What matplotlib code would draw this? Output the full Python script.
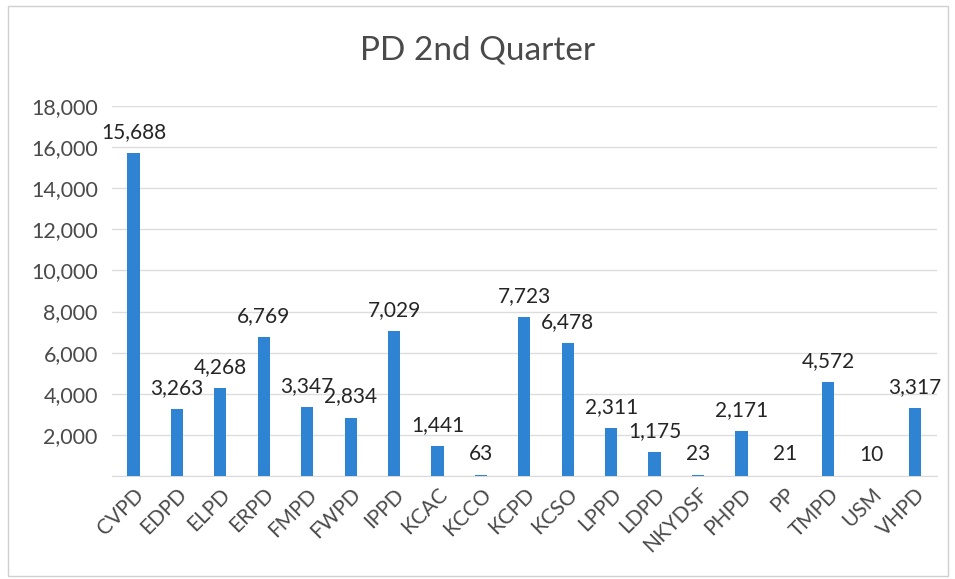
import matplotlib
matplotlib.use("Agg")
import matplotlib.pyplot as plt
from matplotlib.patches import Rectangle

categories = ["CVPD", "EDPD", "ELPD", "ERPD", "FMPD", "FWPD", "IPPD", "KCAC", "KCCO",
              "KCPD", "KCSO", "LPPD", "LDPD", "NKYDSF", "PHPD", "PP", "TMPD", "USM", "VHPD"]
values = [15688, 3263, 4268, 6769, 3347, 2834, 7029, 1441, 63,
          7723, 6478, 2311, 1175, 23, 2171, 21, 4572, 10, 3317]
yticks = [2000, 4000, 6000, 8000, 10000, 12000, 14000, 16000, 18000]

plt.rcParams['font.family'] = ['Lato', 'DejaVu Sans']
text_color = "#4A4A4A"
bar_color = "#2E84D3"

fig = plt.figure(figsize=(9.55, 5.79), dpi=100)
fig.patches.append(Rectangle((0.008, 0.005), 0.985, 0.985, transform=fig.transFigure,
                             fill=False, edgecolor="#D0D0D0", linewidth=1))
ax = fig.add_axes([0.117, 0.178, 0.864, 0.639])
x = list(range(len(categories)))
ax.bar(x, values, width=0.28, color=bar_color, zorder=3)
ax.set_xlim(-0.5, 18.5)
ax.set_ylim(0, 18000)
ax.set_yticks([0] + yticks)
ax.set_yticklabels([""] + [f"{v:,}" for v in yticks], fontsize=15.5, color=text_color)
ax.set_xticks(x)
ax.set_xticklabels(categories, rotation=45, ha="right", rotation_mode="anchor",
                   fontsize=15, color=text_color)
ax.tick_params(axis="y", length=0, pad=10)
ax.tick_params(axis="x", length=0, pad=6)
ax.grid(axis="y", color="#DDDDDD", linewidth=1, zorder=0)
for s in ["top", "right", "left"]:
    ax.spines[s].set_visible(False)
ax.spines["bottom"].set_color("#D9D9D9")
for xi, v in zip(x, values):
    ax.annotate(f"{v:,}", (xi, v), xytext=(0, 8), textcoords="offset points",
                ha="center", va="bottom", fontsize=15, color="#252525")
fig.text(0.5, 0.912, "PD 2nd Quarter", ha="center", va="center", fontsize=24, color=text_color)
fig.savefig("out.png", dpi=100)
